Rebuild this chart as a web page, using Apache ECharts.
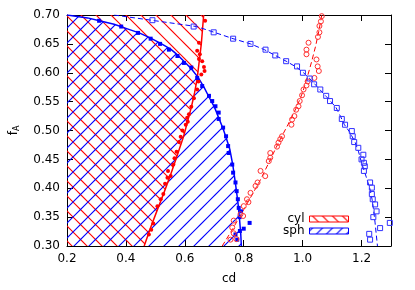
<!DOCTYPE html>
<html><head><meta charset="utf-8">
<script src="https://cdn.jsdelivr.net/npm/echarts@6/dist/echarts.min.js"></script>
<style>html,body{margin:0;padding:0;background:#fff}#c{width:415px;height:290px}</style>
</head><body><div id="c"></div>
<script>
const xTicks = [0.2, 0.4, 0.6, 0.8, 1.0, 1.2];
const yTicks = [0.30, 0.35, 0.40, 0.45, 0.50, 0.55, 0.60, 0.65, 0.70];
const legendNames = ['cyl', 'sph'];

// cyl boundary (red solid)
const cylLine = [[0.462,0.300],[0.484,0.332],[0.507,0.363],[0.529,0.392],[0.552,0.424],[0.575,0.458],[0.596,0.490],[0.609,0.515],[0.622,0.540],[0.633,0.565],[0.642,0.590],[0.649,0.620],[0.656,0.650],[0.660,0.675],[0.664,0.700]];
// cyl filled points
const cylPoints = [[0.478,0.320],[0.486,0.328],[0.493,0.339],[0.507,0.369],[0.518,0.381],[0.527,0.390],[0.533,0.408],[0.541,0.418],[0.552,0.421],[0.543,0.430],[0.561,0.441],[0.565,0.452],[0.572,0.463],[0.580,0.480],[0.586,0.489],[0.592,0.500],[0.603,0.510],[0.610,0.515],[0.608,0.522],[0.614,0.528],[0.622,0.541],[0.631,0.556],[0.642,0.571],[0.646,0.585],[0.656,0.597],[0.665,0.610],[0.667,0.603],[0.659,0.620],[0.648,0.624],[0.651,0.632],[0.642,0.638],[0.648,0.652],[0.669,0.690]];
// cyl second curve (red dashed)
const cylFitLine = [[0.727,0.300],[0.763,0.330],[0.800,0.363],[0.830,0.390],[0.857,0.415],[0.888,0.447],[0.918,0.479],[0.950,0.510],[0.981,0.542],[1.000,0.566],[1.015,0.591],[1.031,0.620],[1.044,0.646],[1.055,0.672],[1.065,0.700]];
// cyl open circles
const cylOpen = [[1.065,0.698],[1.062,0.689],[1.057,0.681],[1.057,0.670],[1.052,0.662],[1.020,0.652],[1.013,0.640],[1.013,0.632],[1.047,0.623],[1.051,0.611],[1.055,0.603],[1.040,0.591],[1.017,0.585],[1.013,0.578],[1.003,0.571],[0.998,0.561],[0.990,0.551],[0.986,0.542],[0.978,0.536],[0.972,0.525],[0.964,0.519],[0.962,0.510],[0.930,0.490],[0.924,0.485],[0.918,0.479],[0.913,0.472],[0.890,0.461],[0.890,0.453],[0.885,0.447],[0.873,0.421],[0.857,0.430],[0.847,0.410],[0.840,0.404],[0.823,0.392],[0.811,0.381],[0.816,0.376],[0.800,0.369],[0.798,0.352],[0.789,0.355],[0.766,0.344],[0.761,0.332],[0.766,0.322],[0.755,0.311],[0.775,0.312]];

// sph boundary (blue solid)
const sphLine = [[0.200,0.700],[0.270,0.695],[0.310,0.690],[0.360,0.684],[0.405,0.676],[0.445,0.669],[0.484,0.660],[0.518,0.651],[0.552,0.641],[0.575,0.631],[0.597,0.620],[0.622,0.607],[0.645,0.592],[0.665,0.575],[0.682,0.558],[0.701,0.540],[0.715,0.522],[0.730,0.503],[0.742,0.485],[0.753,0.467],[0.763,0.440],[0.772,0.408],[0.780,0.377],[0.786,0.345],[0.790,0.320],[0.792,0.300]];
// sph filled squares
const sphPoints = [[0.309,0.690],[0.384,0.680],[0.441,0.669],[0.484,0.659],[0.516,0.650],[0.546,0.640],[0.575,0.629],[0.597,0.617],[0.622,0.609],[0.642,0.591],[0.659,0.577],[0.682,0.560],[0.693,0.551],[0.704,0.542],[0.715,0.531],[0.715,0.520],[0.730,0.505],[0.740,0.490],[0.747,0.473],[0.749,0.461],[0.761,0.441],[0.764,0.427],[0.772,0.410],[0.776,0.395],[0.780,0.381],[0.783,0.366],[0.786,0.350],[0.791,0.360],[0.800,0.330],[0.820,0.340],[0.787,0.326],[0.772,0.320],[0.778,0.311]];
// sph second curve (blue dashed)
const sphFitLine = [[0.360,0.700],[0.500,0.690],[0.640,0.680],[0.700,0.670],[0.764,0.659],[0.823,0.650],[0.870,0.640],[0.907,0.630],[0.944,0.620],[0.978,0.610],[1.003,0.600],[1.024,0.590],[1.042,0.580],[1.060,0.570],[1.080,0.559],[1.096,0.550],[1.113,0.540],[1.128,0.525],[1.142,0.510],[1.160,0.497],[1.178,0.480],[1.190,0.463],[1.200,0.444],[1.215,0.421],[1.229,0.398],[1.236,0.380],[1.241,0.362],[1.246,0.340],[1.250,0.320],[1.254,0.300]];
// sph open squares
const sphOpen = [[0.490,0.691],[0.630,0.680],[0.698,0.670],[0.764,0.659],[0.823,0.650],[0.874,0.640],[0.907,0.630],[0.944,0.620],[0.981,0.611],[1.001,0.600],[1.024,0.590],[1.039,0.580],[1.060,0.571],[1.080,0.560],[1.093,0.551],[1.116,0.539],[1.133,0.520],[1.144,0.510],[1.167,0.499],[1.170,0.490],[1.175,0.480],[1.189,0.470],[1.206,0.458],[1.200,0.450],[1.208,0.444],[1.211,0.438],[1.208,0.430],[1.229,0.410],[1.235,0.401],[1.235,0.390],[1.238,0.381],[1.246,0.372],[1.251,0.360],[1.240,0.350],[1.263,0.331],[1.296,0.340],[1.226,0.321],[1.229,0.311]];

const X0 = 0.2, X1 = 1.3, Y0 = 0.30, Y1 = 0.70;
const cylRegion = [[X0, Y0]].concat(cylLine, [[X0, Y1]]);
const sphRegion = [[X0, Y0], [X0, Y1]].concat(sphLine);

function hatch(color, dir, s, k) {
  const c = document.createElement('canvas');
  c.width = s; c.height = s;
  const g = c.getContext('2d');
  g.strokeStyle = color; g.lineWidth = 1.2;
  g.beginPath();
  for (let t = -2; t <= 2; t++) {
    const K = k + t * s;
    if (dir === '/') { g.moveTo(K + s, -s); g.lineTo(K - 2 * s, 2 * s); }
    else { g.moveTo(K - s, -s); g.lineTo(K + 2 * s, 2 * s); }
  }
  g.stroke();
  return { image: c, repeat: 'repeat' };
}
const redHatch = hatch('#ff0000', '\\', 15, 6);
const blueHatch = hatch('#0000ff', '/', 15, 5);
const redHatchSmall = hatch('#ff0000', '\\', 10, 3);
const blueHatchSmall = hatch('#0000ff', '/', 10, 3);

const FONT = 'DejaVu Sans';
function region(points, fill) {
  return function (params, api) {
    return { type: 'polygon', shape: { points: points.map(p => api.coord(p)) }, style: { fill: fill, stroke: null } };
  };
}
const axisCommon = {
  type: 'value',
  axisLine: { show: true, onZero: false, lineStyle: { color: '#000', width: 1 } },
  axisTick: { show: true, inside: true, length: 6, lineStyle: { color: '#000', width: 1 } },
  splitLine: { show: false }
};
const chart = echarts.init(document.getElementById('c'), null, { renderer: 'canvas' });
chart.setOption({
  animation: false,
  backgroundColor: '#fff',
  grid: { left: 66, top: 15, width: 325, height: 232 },
  xAxis: [
    Object.assign({}, axisCommon, {
      position: 'bottom', min: X0, max: X1, interval: 0.2,
      axisTick: Object.assign({}, axisCommon.axisTick, { customValues: xTicks }),
      axisLabel: { customValues: xTicks, margin: 7, color: '#000', fontFamily: FONT, fontSize: 12, formatter: v => Number(v).toFixed(1) },
      name: 'cd', nameLocation: 'middle', nameGap: 27,
      nameTextStyle: { fontFamily: FONT, fontSize: 12, color: '#000' }
    }),
    Object.assign({}, axisCommon, {
      position: 'top', min: X0, max: X1, interval: 0.2,
      axisTick: Object.assign({}, axisCommon.axisTick, { customValues: xTicks }),
      axisLabel: { show: false }
    })
  ],
  yAxis: [
    Object.assign({}, axisCommon, {
      position: 'left', min: Y0, max: Y1, interval: 0.05,
      axisTick: Object.assign({}, axisCommon.axisTick, { customValues: yTicks }),
      axisLabel: { customValues: yTicks, margin: 7, color: '#000', fontFamily: FONT, fontSize: 12, formatter: v => Number(v).toFixed(2) },
      name: '{a|f}{b|A}', nameLocation: 'middle', nameGap: 46,
      nameTextStyle: {
        fontFamily: FONT, fontSize: 12, color: '#000',
        rich: {
          a: { fontFamily: FONT, fontSize: 12, color: '#000', verticalAlign: 'top' },
          b: { fontFamily: FONT, fontSize: 8, color: '#000', verticalAlign: 'bottom', padding: [5, 0, 0, 0] }
        }
      }
    }),
    Object.assign({}, axisCommon, {
      position: 'right', min: Y0, max: Y1, interval: 0.05,
      axisTick: Object.assign({}, axisCommon.axisTick, { customValues: yTicks }),
      axisLabel: { show: false }
    })
  ],
  legend: {
    orient: 'vertical', right: 61, top: 208, align: 'right',
    itemWidth: 39, itemHeight: 6, itemGap: 0, icon: 'rect',
    textStyle: { fontFamily: FONT, fontSize: 12, color: '#000', lineHeight: 11.5 },
    data: [
      { name: legendNames[0], icon: 'rect', itemStyle: { color: redHatchSmall, borderColor: '#ff0000', borderWidth: 1 } },
      { name: legendNames[1], icon: 'rect', itemStyle: { color: blueHatchSmall, borderColor: '#0000ff', borderWidth: 1 } }
    ]
  },
  series: [
    { name: legendNames[0], type: 'custom', renderItem: region(cylRegion, redHatch), data: [[X0, Y0]], clip: true, z: 1,
      itemStyle: { color: redHatchSmall, borderColor: '#ff0000', borderWidth: 1 } },
    { name: legendNames[1], type: 'custom', renderItem: region(sphRegion, blueHatch), data: [[X0, Y0]], clip: true, z: 1,
      itemStyle: { color: blueHatchSmall, borderColor: '#0000ff', borderWidth: 1 } },
    { type: 'line', data: cylLine, showSymbol: false, symbol: 'none', lineStyle: { color: '#ff0000', width: 1.5 }, z: 3, silent: true },
    { type: 'line', data: sphLine, showSymbol: false, symbol: 'none', lineStyle: { color: '#0000ff', width: 1.5 }, z: 3, silent: true },
    { type: 'line', data: cylFitLine, showSymbol: false, symbol: 'none', lineStyle: { color: '#ff0000', width: 1, type: [5, 3] }, z: 3, silent: true },
    { type: 'line', data: sphFitLine, showSymbol: false, symbol: 'none', lineStyle: { color: '#0000ff', width: 1, type: [5, 3] }, z: 3, silent: true },
    { type: 'scatter', data: cylPoints, symbol: 'circle', symbolSize: 4, itemStyle: { color: '#ff0000', opacity: 1 }, z: 4, silent: true },
    { type: 'scatter', data: sphPoints, symbol: 'rect', symbolSize: 4, itemStyle: { color: '#0000ff', opacity: 1 }, z: 4, silent: true },
    { type: 'scatter', data: cylOpen, symbol: 'circle', symbolSize: 5, itemStyle: { color: 'rgba(0,0,0,0)', borderColor: '#ff3030', borderWidth: 1, opacity: 1 }, z: 4, silent: true },
    { type: 'scatter', data: sphOpen, symbol: 'rect', symbolSize: 5, itemStyle: { color: 'rgba(0,0,0,0)', borderColor: '#3030ff', borderWidth: 1, opacity: 1 }, z: 4, silent: true }
  ]
});
</script></body></html>
